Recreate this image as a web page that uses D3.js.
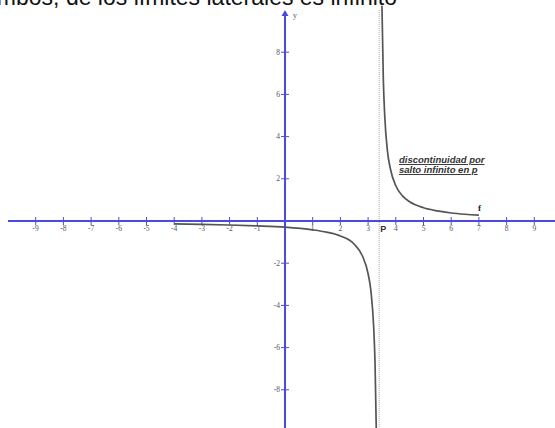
<!DOCTYPE html>
<html>
<head>
<meta charset="utf-8">
<script src="https://cdn.jsdelivr.net/npm/d3@7.8.5/dist/d3.min.js"></script>
<style>
  html, body { margin: 0; padding: 0; background: #fff; overflow: hidden; }
  svg { display: block; }
</style>
</head>
<body>
<div id="chart"></div>
<script>
// values
const xTicks = [-9, -8, -7, -6, -5, -4, -3, -2, -1, 1, 2, 3, 4, 5, 6, 7, 8, 9];
const yTicks = [-8, -6, -4, -2, 2, 4, 6, 8];
const pValue = 3.4;
const leftBranch = [
  [-4, -0.14], [-3, -0.16], [-2, -0.19], [-1, -0.23], [0, -0.29], [1, -0.42],
  [1.5, -0.53], [2, -0.71], [2.5, -1.1], [2.8, -1.67], [3.0, -2.5], [3.1, -3.3],
  [3.2, -5], [3.25, -6.7], [3.3, -10.2]
];
const rightBranch = [
  [3.5, 10.2], [3.55, 6.7], [3.6, 5], [3.7, 3.3], [3.8, 2.5], [4.0, 1.67],
  [4.25, 1.18], [4.5, 0.91], [5, 0.63], [5.5, 0.48], [6, 0.38], [6.5, 0.32], [7, 0.28]
];
const title = 'ambos, de los límites laterales es infinito';
const noteLines = ['discontinuidad por', 'salto infinito en p'];

const width = 555, height = 428;
const axisBlue = '#4a4ae0';

const svg = d3.select('#chart').append('svg')
  .attr('width', width)
  .attr('height', height);

const x = d3.scaleLinear().domain([-10, 10]).range([8, 562]);
const y = d3.scaleLinear().domain([-10, 10]).range([432, 10]);

// title, clipped by the top edge like in the source page
svg.append('text')
  .attr('x', 397)
  .attr('y', 5)
  .attr('text-anchor', 'end')
  .style('font-family', 'Liberation Sans, Arial, sans-serif')
  .style('font-size', '23px')
  .attr('fill', '#111')
  .text(title);

// vertical dotted line at p
svg.append('line')
  .attr('x1', x(pValue)).attr('x2', x(pValue))
  .attr('y1', y(10)).attr('y2', height)
  .attr('stroke', '#aaa')
  .attr('stroke-width', 1)
  .attr('stroke-dasharray', '1,1');

// x axis
svg.append('line')
  .attr('x1', x(-10)).attr('x2', width)
  .attr('y1', y(0)).attr('y2', y(0))
  .attr('stroke', axisBlue)
  .attr('stroke-width', 2);

const xg = svg.append('g');
xg.selectAll('line')
  .data(xTicks)
  .enter()
  .append('line')
  .attr('x1', d => x(d)).attr('x2', d => x(d))
  .attr('y1', y(0) - 4).attr('y2', y(0) + 4)
  .attr('stroke', axisBlue)
  .attr('stroke-width', 1);
xg.selectAll('text')
  .data(xTicks)
  .enter()
  .append('text')
  .attr('x', d => x(d))
  .attr('y', y(0) + 10)
  .attr('text-anchor', 'middle')
  .style('font-family', 'Liberation Serif, serif')
  .style('font-size', '7.5px')
  .attr('fill', '#555')
  .text(d => d);

// y axis
svg.append('line')
  .attr('x1', x(0)).attr('x2', x(0))
  .attr('y1', y(10) + 4).attr('y2', height)
  .attr('stroke', axisBlue)
  .attr('stroke-width', 2);
svg.append('path')
  .attr('d', `M${x(0) - 3.5},${y(10) + 6} L${x(0)},${y(10)} L${x(0) + 3.5},${y(10) + 6} Z`)
  .attr('fill', axisBlue);
svg.append('text')
  .attr('x', x(0) + 8)
  .attr('y', y(10) + 8)
  .style('font-family', 'Liberation Serif, serif')
  .style('font-size', '8px')
  .attr('fill', '#555')
  .text('y');

const yg = svg.append('g');
yg.selectAll('line')
  .data(yTicks)
  .enter()
  .append('line')
  .attr('x1', x(0) - 4).attr('x2', x(0) + 4)
  .attr('y1', d => y(d)).attr('y2', d => y(d))
  .attr('stroke', axisBlue)
  .attr('stroke-width', 1);
yg.selectAll('text')
  .data(yTicks)
  .enter()
  .append('text')
  .attr('x', x(0) - 5)
  .attr('y', d => y(d) + 2.5)
  .attr('text-anchor', 'end')
  .style('font-family', 'Liberation Serif, serif')
  .style('font-size', '7.5px')
  .attr('fill', '#555')
  .text(d => d);

// curve
const line = d3.line()
  .x(d => x(d[0]))
  .y(d => y(d[1]))
  .curve(d3.curveMonotoneX);

[leftBranch, rightBranch].forEach(branch => {
  svg.append('path')
    .datum(branch)
    .attr('d', line)
    .attr('fill', 'none')
    .attr('stroke', '#555')
    .attr('stroke-width', 1.7);
});

// labels
svg.append('text')
  .attr('x', x(pValue) + 1)
  .attr('y', y(0) + 11)
  .style('font-family', 'Liberation Sans, Arial, sans-serif')
  .style('font-size', '9px')
  .style('font-weight', 'bold')
  .attr('fill', '#333')
  .text('P');

svg.append('text')
  .attr('x', x(7) - 1)
  .attr('y', y(0) - 10)
  .style('font-family', 'Liberation Serif, serif')
  .style('font-size', '9px')
  .style('font-weight', 'bold')
  .attr('fill', '#222')
  .text('f');

svg.append('g')
  .selectAll('text')
  .data(noteLines)
  .enter()
  .append('text')
  .attr('x', 399)
  .attr('y', (d, i) => 163 + i * 10)
  .style('font-family', 'Liberation Sans, Arial, sans-serif')
  .style('font-size', '9.5px')
  .style('font-style', 'italic')
  .style('font-weight', 'bold')
  .style('text-decoration', 'underline')
  .attr('fill', '#333')
  .text(d => d);
</script>
</body>
</html>
